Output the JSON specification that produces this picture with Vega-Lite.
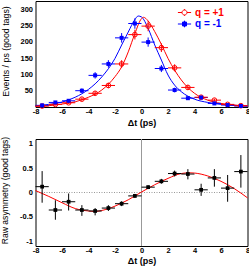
{
  "$schema": "https://vega.github.io/schema/vega-lite/v6.json",
  "padding": {"left": -0.5, "top": -1, "right": 0, "bottom": 0},
  "autosize": {"type": "pad"},
  "spacing": 32,
  "bounds": "flush",
  "config": {
    "view": {"stroke": "#000", "strokeWidth": 1},
    "axis": {
      "domain": false, "grid": false, "tickColor": "#000", "tickWidth": 1,
      "labelColor": "#000", "titleColor": "#000",
      "labelFont": "Liberation Sans", "titleFont": "Liberation Sans",
      "labelFontWeight": "bold", "labelFontSize": 7.5,
      "labelFlush": false, "labelOverlap": false, "labelBound": false,
      "tickSize": 0.01
    }
  },
  "datasets": {
    "curves": [
      {"q": "-1", "t": -8, "v": 3}, {"q": "-1", "t": -7, "v": 8}, {"q": "-1", "t": -6, "v": 15},
      {"q": "-1", "t": -5, "v": 30}, {"q": "-1", "t": -4, "v": 54}, {"q": "-1", "t": -3, "v": 92},
      {"q": "-1", "t": -2, "v": 149}, {"q": "-1", "t": -1.5, "v": 190}, {"q": "-1", "t": -1, "v": 230},
      {"q": "-1", "t": -0.5, "v": 268}, {"q": "-1", "t": -0.25, "v": 279}, {"q": "-1", "t": 0, "v": 276},
      {"q": "-1", "t": 0.5, "v": 241}, {"q": "-1", "t": 1, "v": 190}, {"q": "-1", "t": 1.5, "v": 144},
      {"q": "-1", "t": 2, "v": 98}, {"q": "-1", "t": 2.5, "v": 67}, {"q": "-1", "t": 3, "v": 47},
      {"q": "-1", "t": 4, "v": 24}, {"q": "-1", "t": 5, "v": 14}, {"q": "-1", "t": 6, "v": 8},
      {"q": "-1", "t": 7, "v": 5}, {"q": "-1", "t": 8, "v": 3},
      {"q": "+1", "t": -8, "v": 2}, {"q": "+1", "t": -7, "v": 4}, {"q": "+1", "t": -6, "v": 9},
      {"q": "+1", "t": -5, "v": 16}, {"q": "+1", "t": -4, "v": 30}, {"q": "+1", "t": -3, "v": 52},
      {"q": "+1", "t": -2, "v": 93}, {"q": "+1", "t": -1.5, "v": 123}, {"q": "+1", "t": -1, "v": 169},
      {"q": "+1", "t": -0.5, "v": 225}, {"q": "+1", "t": 0, "v": 271}, {"q": "+1", "t": 0.15, "v": 275},
      {"q": "+1", "t": 0.5, "v": 264}, {"q": "+1", "t": 1, "v": 231}, {"q": "+1", "t": 1.5, "v": 192},
      {"q": "+1", "t": 2, "v": 149}, {"q": "+1", "t": 2.5, "v": 113}, {"q": "+1", "t": 3, "v": 83},
      {"q": "+1", "t": 4, "v": 42}, {"q": "+1", "t": 5, "v": 21}, {"q": "+1", "t": 6, "v": 11},
      {"q": "+1", "t": 7, "v": 6}, {"q": "+1", "t": 8, "v": 3}
    ],
    "pts": [
      {"q": "-1", "t": -7.5, "tlo": -8, "thi": -7, "n": 5, "nlo": 2.8, "nhi": 7.2},
      {"q": "-1", "t": -6.5, "tlo": -7, "thi": -6, "n": 14, "nlo": 10.3, "nhi": 17.7},
      {"q": "-1", "t": -5.5, "tlo": -6, "thi": -5, "n": 19, "nlo": 14.6, "nhi": 23.4},
      {"q": "-1", "t": -4.5, "tlo": -5, "thi": -4, "n": 50, "nlo": 43, "nhi": 57},
      {"q": "-1", "t": -3.5, "tlo": -4, "thi": -3, "n": 97, "nlo": 87.2, "nhi": 106.8},
      {"q": "-1", "t": -2.5, "tlo": -3, "thi": -2, "n": 132, "nlo": 120.5, "nhi": 143.5},
      {"q": "-1", "t": -1.5, "tlo": -2, "thi": -1, "n": 212, "nlo": 197.4, "nhi": 226.6},
      {"q": "-1", "t": -0.5, "tlo": -1, "thi": 0, "n": 256, "nlo": 240, "nhi": 272},
      {"q": "-1", "t": 0.5, "tlo": 0, "thi": 1, "n": 199, "nlo": 184.9, "nhi": 213.1},
      {"q": "-1", "t": 1.5, "tlo": 1, "thi": 2, "n": 118, "nlo": 107.1, "nhi": 128.9},
      {"q": "-1", "t": 2.5, "tlo": 2, "thi": 3, "n": 52, "nlo": 44.8, "nhi": 59.2},
      {"q": "-1", "t": 3.5, "tlo": 3, "thi": 4, "n": 27, "nlo": 21.8, "nhi": 32.2},
      {"q": "-1", "t": 4.5, "tlo": 4, "thi": 5, "n": 29, "nlo": 23.6, "nhi": 34.4},
      {"q": "-1", "t": 5.5, "tlo": 5, "thi": 6, "n": 11, "nlo": 7.7, "nhi": 14.3},
      {"q": "-1", "t": 6.5, "tlo": 6, "thi": 7, "n": 6, "nlo": 3.6, "nhi": 8.4},
      {"q": "-1", "t": 7.5, "tlo": 7, "thi": 8, "n": 3, "nlo": 1.3, "nhi": 4.7},
      {"q": "+1", "t": -7.5, "tlo": -8, "thi": -7, "n": 3, "nlo": 1.3, "nhi": 4.7},
      {"q": "+1", "t": -6.5, "tlo": -7, "thi": -6, "n": 8, "nlo": 5.2, "nhi": 10.8},
      {"q": "+1", "t": -5.5, "tlo": -6, "thi": -5, "n": 13, "nlo": 9.4, "nhi": 16.6},
      {"q": "+1", "t": -4.5, "tlo": -5, "thi": -4, "n": 24, "nlo": 19.1, "nhi": 28.9},
      {"q": "+1", "t": -3.5, "tlo": -4, "thi": -3, "n": 42, "nlo": 35.5, "nhi": 48.5},
      {"q": "+1", "t": -2.5, "tlo": -3, "thi": -2, "n": 66, "nlo": 57.9, "nhi": 74.1},
      {"q": "+1", "t": -1.5, "tlo": -2, "thi": -1, "n": 132, "nlo": 120.5, "nhi": 143.5},
      {"q": "+1", "t": -0.5, "tlo": -1, "thi": 0, "n": 222, "nlo": 207.1, "nhi": 236.9},
      {"q": "+1", "t": 0.5, "tlo": 0, "thi": 1, "n": 248, "nlo": 232.3, "nhi": 263.7},
      {"q": "+1", "t": 1.5, "tlo": 1, "thi": 2, "n": 182, "nlo": 168.5, "nhi": 195.5},
      {"q": "+1", "t": 2.5, "tlo": 2, "thi": 3, "n": 120, "nlo": 109, "nhi": 131},
      {"q": "+1", "t": 3.5, "tlo": 3, "thi": 4, "n": 60, "nlo": 52.3, "nhi": 67.7},
      {"q": "+1", "t": 4.5, "tlo": 4, "thi": 5, "n": 30, "nlo": 24.5, "nhi": 35.5},
      {"q": "+1", "t": 5.5, "tlo": 5, "thi": 6, "n": 21, "nlo": 16.4, "nhi": 25.6},
      {"q": "+1", "t": 6.5, "tlo": 6, "thi": 7, "n": 8, "nlo": 5.2, "nhi": 10.8},
      {"q": "+1", "t": 7.5, "tlo": 7, "thi": 8, "n": 4, "nlo": 2, "nhi": 6}
    ],
    "acurve": [
      {"t": -8, "a": 0.04}, {"t": -7, "a": -0.08}, {"t": -6, "a": -0.21}, {"t": -5, "a": -0.33},
      {"t": -4, "a": -0.38}, {"t": -3.5, "a": -0.39}, {"t": -3, "a": -0.37}, {"t": -2, "a": -0.28},
      {"t": -1, "a": -0.15}, {"t": 0, "a": 0.01}, {"t": 1, "a": 0.16}, {"t": 2, "a": 0.29},
      {"t": 3, "a": 0.39}, {"t": 3.6, "a": 0.405}, {"t": 4, "a": 0.4}, {"t": 5, "a": 0.34},
      {"t": 6, "a": 0.23}, {"t": 7, "a": 0.08}, {"t": 8, "a": -0.11}
    ],
    "apts": [
      {"t": -7.5, "tlo": -8, "thi": -7, "a": 0.12, "alo": -0.21, "ahi": 0.44},
      {"t": -6.5, "tlo": -7, "thi": -6, "a": -0.36, "alo": -0.56, "ahi": -0.16},
      {"t": -5.5, "tlo": -6, "thi": -5, "a": -0.19, "alo": -0.37, "ahi": -0.02},
      {"t": -4.5, "tlo": -5, "thi": -4, "a": -0.36, "alo": -0.48, "ahi": -0.26},
      {"t": -3.5, "tlo": -4, "thi": -3, "a": -0.38, "alo": -0.47, "ahi": -0.32},
      {"t": -2.5, "tlo": -3, "thi": -2, "a": -0.32, "alo": -0.38, "ahi": -0.26},
      {"t": -1.5, "tlo": -2, "thi": -1, "a": -0.23, "alo": -0.28, "ahi": -0.18},
      {"t": -0.5, "tlo": -1, "thi": 0, "a": -0.07, "alo": -0.11, "ahi": -0.03},
      {"t": 0.5, "tlo": 0, "thi": 1, "a": 0.11, "alo": 0.07, "ahi": 0.15},
      {"t": 1.5, "tlo": 1, "thi": 2, "a": 0.23, "alo": 0.18, "ahi": 0.28},
      {"t": 2.5, "tlo": 2, "thi": 3, "a": 0.39, "alo": 0.33, "ahi": 0.45},
      {"t": 3.5, "tlo": 3, "thi": 4, "a": 0.38, "alo": 0.27, "ahi": 0.48},
      {"t": 4.5, "tlo": 4, "thi": 5, "a": 0.055, "alo": -0.07, "ahi": 0.18},
      {"t": 5.5, "tlo": 5, "thi": 6, "a": 0.3, "alo": 0.12, "ahi": 0.48},
      {"t": 6.5, "tlo": 6, "thi": 7, "a": 0.09, "alo": -0.19, "ahi": 0.36},
      {"t": 7.5, "tlo": 7, "thi": 8, "a": 0.43, "alo": 0.1, "ahi": 0.77}
    ]
  },
  "vconcat": [
    {
      "width": 212,
      "height": 106,
      "resolve": {"axis": {"x": "independent", "y": "independent"}},
      "layer": [
        {
          "data": {"name": "curves"},
          "mark": {"type": "line", "interpolate": "monotone", "strokeWidth": 1},
          "encoding": {
            "x": {"field": "t", "type": "quantitative",
              "scale": {"domain": [-8, 8], "nice": false, "zero": false},
              "axis": {
                "orient": "bottom",
                "values": [-8,-7.6,-7.2,-6.8,-6.4,-6,-5.6,-5.2,-4.8,-4.4,-4,-3.6,-3.2,-2.8,-2.4,-2,-1.6,-1.2,-0.8,-0.4,0,0.4,0.8,1.2,1.6,2,2.4,2.8,3.2,3.6,4,4.4,4.8,5.2,5.6,6,6.4,6.8,7.2,7.6,8],
                "labelExpr": "abs(datum.value/2 - round(datum.value/2)) < 0.01 ? '' + round(datum.value) : ''",
                "labelPadding": 0.5,
                "title": "Δt (ps)", "titleFontWeight": "bold", "titleFontSize": 9, "titlePadding": 3.5,
                "encode": {"ticks": {"y2": {"condition": {"test": "abs(datum.value/2 - round(datum.value/2)) < 0.01", "value": -4}, "value": -2}}}
              }
            },
            "y": {"field": "v", "type": "quantitative",
              "scale": {"domain": [0, 325], "nice": false, "zero": false},
              "axis": {
                "orient": "left",
                "values": [0,10,20,30,40,50,60,70,80,90,100,110,120,130,140,150,160,170,180,190,200,210,220,230,240,250,260,270,280,290,300,310],
                "labelExpr": "datum.value % 50 === 0 && datum.value > 0 ? '' + datum.value : ''",
                "labelPadding": 3,
                "title": "Events / ps (good tags)", "titleFontWeight": "normal", "titleFontSize": 8.8,
                "titleX": -30, "titleY": 50, "titleAngle": -90, "titleAlign": "center", "titleBaseline": "middle",
                "encode": {"ticks": {"x2": {"condition": {"test": "datum.value % 50 === 0", "value": 4}, "value": 2}}}
              }
            },
            "stroke": {"field": "q", "type": "nominal",
              "scale": {"domain": ["+1", "-1"], "range": ["#ff0000", "#0000ff"]},
              "legend": {
                "values": ["+1"],
                "title": null, "orient": "none", "legendX": 143, "legendY": 5.5, "padding": 0,
                "labelExpr": "'q = ' + datum.label",
                "labelFont": "Liberation Sans", "labelFontWeight": "bold", "labelFontSize": 10,
                "labelColor": "#ff0000",
                "labelOffset": 4.5, "symbolSize": 121, "symbolStrokeWidth": 1,
                "symbolFillColor": "transparent",
                "symbolType": "M-1.2,0H-0.45M0.45,0H1.2M0,-0.6V-0.45M0,0.45V0.6M0.45,0A0.45,0.45 0 1,1 -0.45,0A0.45,0.45 0 1,1 0.45,0Z"
              }
            }
          }
        },
        {
          "data": {"name": "pts"},
          "mark": {"type": "rule", "strokeWidth": 1},
          "encoding": {
            "x": {"field": "tlo", "type": "quantitative", "axis": null},
            "x2": {"field": "thi"},
            "y": {"field": "n", "type": "quantitative", "axis": null},
            "stroke": {"field": "q", "type": "nominal", "legend": null}
          }
        },
        {
          "data": {"name": "pts"},
          "mark": {"type": "rule", "strokeWidth": 1},
          "encoding": {
            "x": {"field": "t", "type": "quantitative", "axis": null},
            "y": {"field": "nlo", "type": "quantitative", "axis": null},
            "y2": {"field": "nhi"},
            "stroke": {"field": "q", "type": "nominal", "legend": null}
          }
        },
        {
          "data": {"name": "pts"},
          "transform": [{"filter": "datum.q === '+1'"}],
          "mark": {"type": "point", "shape": "circle", "filled": false, "size": 22, "strokeWidth": 1, "color": "#ff0000", "opacity": 1},
          "encoding": {
            "x": {"field": "t", "type": "quantitative", "axis": null},
            "y": {"field": "n", "type": "quantitative", "axis": null}
          }
        },
        {
          "data": {"name": "pts"},
          "transform": [{"filter": "datum.q === '-1'"}],
          "mark": {"type": "square", "size": 16, "opacity": 1},
          "encoding": {
            "x": {"field": "t", "type": "quantitative",
              "axis": {
                "orient": "top", "labels": false, "title": null,
                "values": [-8,-7.6,-7.2,-6.8,-6.4,-6,-5.6,-5.2,-4.8,-4.4,-4,-3.6,-3.2,-2.8,-2.4,-2,-1.6,-1.2,-0.8,-0.4,0,0.4,0.8,1.2,1.6,2,2.4,2.8,3.2,3.6,4,4.4,4.8,5.2,5.6,6,6.4,6.8,7.2,7.6,8],
                "encode": {"ticks": {"y2": {"condition": {"test": "abs(datum.value/2 - round(datum.value/2)) < 0.01", "value": 4}, "value": 2}}}
              }
            },
            "y": {"field": "n", "type": "quantitative",
              "axis": {
                "orient": "right", "labels": false, "title": null,
                "values": [0,10,20,30,40,50,60,70,80,90,100,110,120,130,140,150,160,170,180,190,200,210,220,230,240,250,260,270,280,290,300,310,320],
                "encode": {"ticks": {"x2": {"condition": {"test": "datum.value % 50 === 0", "value": -4}, "value": -2}}}
              }
            },
            "fill": {"field": "q", "type": "nominal",
              "scale": {"domain": ["-1", "+1"], "range": ["#0000ff", "#ff0000"]},
              "legend": {
                "values": ["-1"],
                "title": null, "orient": "none", "legendX": 143, "legendY": 17, "padding": 0,
                "labelExpr": "'q = ' + datum.label",
                "labelFont": "Liberation Sans", "labelFontWeight": "bold", "labelFontSize": 10,
                "labelColor": "#0000ff",
                "labelOffset": 4.5, "symbolSize": 121, "symbolStrokeWidth": 1,
                "symbolStrokeColor": "#0000ff", "symbolOpacity": 1,
                "symbolType": "M-1.2,0H1.2M0,-0.6V0.6M-0.36,-0.36H0.36V0.36H-0.36Z"
              }
            }
          }
        }
      ]
    },
    {
      "width": 212,
      "height": 107,
      "resolve": {"axis": {"x": "independent", "y": "independent"}},
      "layer": [
        {
          "data": {"values": [{}]},
          "mark": {"type": "rule", "color": "#999999", "strokeWidth": 1, "strokeDash": [1, 1.5]},
          "encoding": {"y": {"datum": 0, "type": "quantitative", "axis": null}}
        },
        {
          "data": {"values": [{}]},
          "mark": {"type": "rule", "color": "#999999", "strokeWidth": 1},
          "encoding": {"x": {"datum": 0, "type": "quantitative", "axis": null}}
        },
        {
          "data": {"name": "acurve"},
          "mark": {"type": "line", "interpolate": "monotone", "strokeWidth": 1, "color": "#ff0000"},
          "encoding": {
            "x": {"field": "t", "type": "quantitative",
              "scale": {"domain": [-8, 8], "nice": false, "zero": false},
              "axis": {
                "orient": "bottom",
                "values": [-8,-7.6,-7.2,-6.8,-6.4,-6,-5.6,-5.2,-4.8,-4.4,-4,-3.6,-3.2,-2.8,-2.4,-2,-1.6,-1.2,-0.8,-0.4,0,0.4,0.8,1.2,1.6,2,2.4,2.8,3.2,3.6,4,4.4,4.8,5.2,5.6,6,6.4,6.8,7.2,7.6,8],
                "labelExpr": "abs(datum.value/2 - round(datum.value/2)) < 0.01 ? '' + round(datum.value) : ''",
                "labelPadding": 0.5,
                "title": "Δt (ps)", "titleFontWeight": "bold", "titleFontSize": 9, "titlePadding": 2.2,
                "encode": {"ticks": {"y2": {"condition": {"test": "abs(datum.value/2 - round(datum.value/2)) < 0.01", "value": -4}, "value": -2}}}
              }
            },
            "y": {"field": "a", "type": "quantitative",
              "scale": {"domain": [-1.1, 1.1], "nice": false, "zero": false},
              "axis": {
                "orient": "left",
                "values": [-1,-0.9,-0.8,-0.7,-0.6,-0.5,-0.4,-0.3,-0.2,-0.1,0,0.1,0.2,0.3,0.4,0.5,0.6,0.7,0.8,0.9,1],
                "labelExpr": "abs(datum.value*2 - round(datum.value*2)) < 0.01 ? '' + round(datum.value*2)/2 : ''",
                "labelPadding": 3,
                "title": "Raw asymmetry (good tags)", "titleFontWeight": "normal", "titleFontSize": 8.6,
                "titleX": -31, "titleY": 51, "titleAngle": -90, "titleAlign": "center", "titleBaseline": "middle",
                "encode": {"ticks": {"x2": {"condition": {"test": "abs(datum.value*2 - round(datum.value*2)) < 0.01", "value": 4}, "value": 2}}}
              }
            }
          }
        },
        {
          "data": {"name": "apts"},
          "mark": {"type": "rule", "strokeWidth": 1, "color": "#000000"},
          "encoding": {
            "x": {"field": "tlo", "type": "quantitative", "axis": null},
            "x2": {"field": "thi"},
            "y": {"field": "a", "type": "quantitative", "axis": null}
          }
        },
        {
          "data": {"name": "apts"},
          "mark": {"type": "rule", "strokeWidth": 1, "color": "#000000"},
          "encoding": {
            "x": {"field": "t", "type": "quantitative", "axis": null},
            "y": {"field": "alo", "type": "quantitative", "axis": null},
            "y2": {"field": "ahi"}
          }
        },
        {
          "data": {"name": "apts"},
          "mark": {"type": "square", "size": 14, "color": "#000000", "opacity": 1},
          "encoding": {
            "x": {"field": "t", "type": "quantitative",
              "axis": {
                "orient": "top", "labels": false, "title": null,
                "values": [-8,-7.6,-7.2,-6.8,-6.4,-6,-5.6,-5.2,-4.8,-4.4,-4,-3.6,-3.2,-2.8,-2.4,-2,-1.6,-1.2,-0.8,-0.4,0,0.4,0.8,1.2,1.6,2,2.4,2.8,3.2,3.6,4,4.4,4.8,5.2,5.6,6,6.4,6.8,7.2,7.6,8],
                "encode": {"ticks": {"y2": {"condition": {"test": "abs(datum.value/2 - round(datum.value/2)) < 0.01", "value": 4}, "value": 2}}}
              }
            },
            "y": {"field": "a", "type": "quantitative",
              "axis": {
                "orient": "right", "labels": false, "title": null,
                "values": [-1.1,-1,-0.9,-0.8,-0.7,-0.6,-0.5,-0.4,-0.3,-0.2,-0.1,0,0.1,0.2,0.3,0.4,0.5,0.6,0.7,0.8,0.9,1,1.1],
                "encode": {"ticks": {"x2": {"condition": {"test": "abs(datum.value*2 - round(datum.value*2)) < 0.01", "value": -4}, "value": -2}}}
              }
            }
          }
        }
      ]
    }
  ]
}
